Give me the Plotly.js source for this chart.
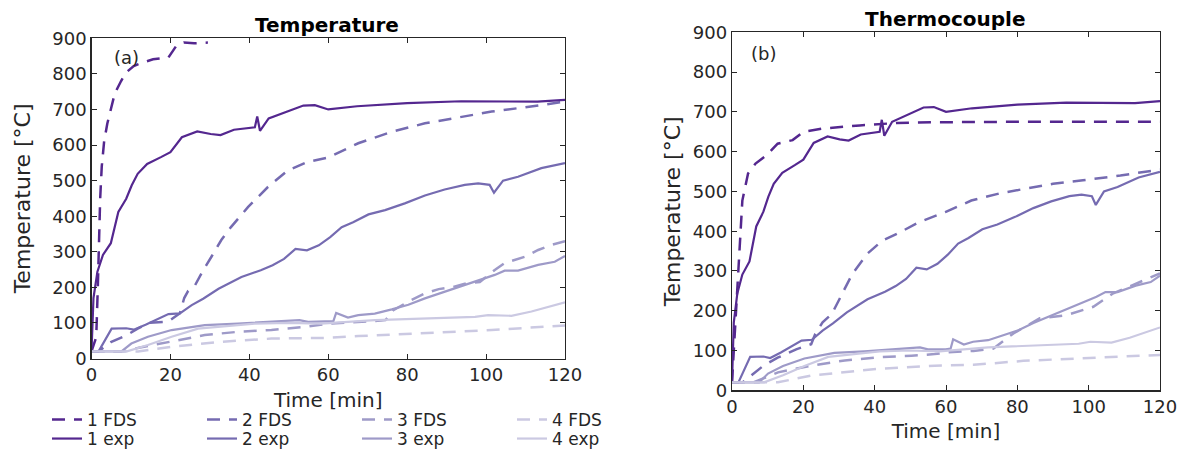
<!DOCTYPE html>
<html>
<head>
<meta charset="utf-8">
<script src="https://cdn.plot.ly/plotly-3.0.1.min.js"></script>
<style>html,body{margin:0;padding:0;background:#fff;}#chart{width:1181px;height:450px;}</style>
</head>
<body>
<div id="chart"></div>
<script>
// ---------- data (time in min, temperature in °C) ----------
var seriesNames = ["1 FDS", "2 FDS", "3 FDS", "4 FDS", "1 exp", "2 exp", "3 exp", "4 exp"];
var colors = ["#54278f", "#756bb1", "#9e9ac8", "#cbc9e2"];

// experimental curves (same in both panels)
var exp1_t = [0,0.5,1.5,2.9,4.9,5.9,6.8,8.8,10.2,11.7,14.1,17.6,20,22.9,26.8,30.2,32.7,36.1,39.5,41.4,42,42.7,44.9,49.3,53.7,56.6,60,67.3,80,93.7,107.3,113,120];
var exp1_T = [20,170,244,291,324,375,412,449,487,519,547,566,580,622,638,631,628,643,647,650,680,640,675,692,711,712,700,709,718,723,723,722,727];
var exp2_t = [0,1.8,5.1,8.8,10.7,13.7,19.5,22.4,25.4,28.3,32.2,38,42.9,45.9,48.8,51.7,54.6,57.6,60.5,63.4,66.3,70.2,74.4,79.4,84.5,89.5,94.6,98,100.9,102,104.3,108.1,114,120];
var exp2_T = [20,20,84,85,81,95,125,127,150,168,196,229,248,262,280,308,304,318,341,369,383,405,417,436,458,475,488,492,488,466,500,511,535,549];
var exp3_t = [0,7.6,10.1,14.3,20.3,28.7,37.1,45.6,52.7,54.9,59.9,61.3,62,65,67.6,71.8,76.1,80.3,84.5,89.5,94.6,99.7,102.2,104.7,108.1,113.2,117.4,120];
var exp3_T = [20,20,42,61,80,94,98,103,108,103,103,105,128,115,122,126,138,151,169,188,207,225,235,247,247,263,272,288];
var exp4_t = [0,9,14.3,20.3,27,34.6,41.4,49.8,58.2,71.8,84.5,97.2,100.5,106.4,111.5,116,120];
var exp4_T = [20,20,38,61,84,91,98,100,98,108,113,117,122,120,132,145,158];

// FDS curves, panel (a) Temperature
var fdsA1_t = [0,1.2,1.6,1.9,2.2,2.6,3.2,4,4.9,5.9,7.5,8.8,10.7,13,15.6,19.5,21.5,23.4,26,29.5];
var fdsA1_T = [20,60,200,330,450,540,610,660,702,745,780,804,822,832,841,846,879,888,886,888];
var fdsA2_t = [0,1.8,4.9,8.8,11.7,14.6,19.5,22.4,23.5,24.5,26.2,28.3,30.4,32.9,35.4,39.7,44.7,49.8,54.9,60,67.6,76,84.5,92.9,101.4,109.8,120];
var fdsA2_T = [20,20,46,65,84,100,104,127,170,190,205,248,286,333,370,426,482,529,553,565,605,637,661,678,694,706,722];
var fdsA3_t = [0,8,12,20.3,28.7,37.1,45.6,54,60,70,74.5,75.2,76.5,81,84.5,88,91.3,94.6,98.4,102.2,104.7,109.8,113.2,116.5,120];
var fdsA3_T = [20,20,30,47,66,75,80,89,98,104,108,117,136,164,183,195,200,210,215,249,268,286,305,319,330];
var fdsA4_t = [0,11.8,20.3,32.9,45.6,60,67.6,84.5,101.4,120];
var fdsA4_T = [20,20,33,47,56,58,63,71,80,93];

// FDS curves, panel (b) Thermocouple
var fdsB1_t = [0,0.8,1.4,2.2,2.9,4.5,6.6,9.7,12.8,17,20.1,25.4,35.8,46.2,58,80,100,120];
var fdsB1_T = [20,141,250,376,477,545,570,591,620,629,650,658,666,672,674,675,675,675];
var fdsB2_t = [0,3,8.7,12.8,18,22.2,23.3,25.4,28,30.6,33.7,37.9,42.1,46.2,52.5,59.8,67.1,75.5,82.8,90,98.4,108.9,120];
var fdsB2_T = [20,20,61,82,103,116,141,171,192,238,292,343,376,393,423,448,477,496,507,519,528,540,555];
var fdsB3_t = [0,6,12.9,22.2,31.6,40.9,50.3,56.8,60,67.7,73.3,78.9,86.3,93.8,101.3,106.9,112.5,120];
var fdsB3_T = [20,20,45,62,75,83,87,91,95,99,105,143,181,189,210,244,265,294];
var fdsB4_t = [0,12.9,22.2,31.6,40.9,56.8,67.7,81.7,95.7,109.7,120];
var fdsB4_T = [20,20,37,45,54,62,64,74,80,85,89];

var xTicks = [0,20,40,60,80,100,120];
var yTicks = [0,100,200,300,400,500,600,700,800,900];

// ---------- traces ----------
var FONT = "DejaVu Sans, Liberation Sans, Arial, sans-serif";
var DASH = "13px,9px";
var expT = [[exp1_t,exp1_T],[exp2_t,exp2_T],[exp3_t,exp3_T],[exp4_t,exp4_T]];
var fdsA = [[fdsA1_t,fdsA1_T],[fdsA2_t,fdsA2_T],[fdsA3_t,fdsA3_T],[fdsA4_t,fdsA4_T]];
var fdsB = [[fdsB1_t,fdsB1_T],[fdsB2_t,fdsB2_T],[fdsB3_t,fdsB3_T],[fdsB4_t,fdsB4_T]];

var traces = [];
for (var i = 0; i < 4; i++) {
  traces.push({x: fdsA[i][0], y: fdsA[i][1], type: 'scatter', mode: 'lines', name: seriesNames[i],
    line: {color: colors[i], width: 2.5, dash: DASH}, xaxis: 'x', yaxis: 'y', legend: 'legend'});
}
for (var i = 0; i < 4; i++) {
  traces.push({x: expT[i][0], y: expT[i][1], type: 'scatter', mode: 'lines', name: seriesNames[4+i],
    line: {color: colors[i], width: 2.2}, xaxis: 'x', yaxis: 'y', legend: 'legend2'});
}
for (var i = 0; i < 4; i++) {
  traces.push({x: fdsB[i][0], y: fdsB[i][1], type: 'scatter', mode: 'lines', name: seriesNames[i],
    line: {color: colors[i], width: 2.5, dash: DASH}, xaxis: 'x2', yaxis: 'y2', showlegend: false});
}
for (var i = 0; i < 4; i++) {
  traces.push({x: expT[i][0], y: expT[i][1], type: 'scatter', mode: 'lines', name: seriesNames[4+i],
    line: {color: colors[i], width: 2.2}, xaxis: 'x2', yaxis: 'y2', showlegend: false});
}

// ---------- layout ----------
var W = 1181, H = 450;
function px2x(p){ return p / W; }
function px2y(p){ return (H - p) / H; }
var tickFont = {family: FONT, size: 18, color: '#262626'};
function xAxis(dom, anchor) {
  return {domain: dom, anchor: anchor, range: [0,120], tickvals: xTicks, ticks: 'inside', ticklen: 5,
    tickcolor: '#262626', showline: true, linecolor: '#262626', linewidth: 1.2, mirror: 'ticks',
    showgrid: false, zeroline: false, tickfont: tickFont, automargin: false,
    title: {text: 'Time [min]', font: {family: FONT, size: 20, color: '#262626'}, standoff: 8}};
}
function yAxis(dom, anchor, standoff) {
  return {domain: dom, anchor: anchor, range: [0,900], tickvals: yTicks, ticks: 'inside', ticklen: 5,
    tickcolor: '#262626', showline: true, linecolor: '#262626', linewidth: 1.2, mirror: 'ticks',
    showgrid: false, zeroline: false, tickfont: tickFont, automargin: false,
    title: {text: 'Temperature [°C]', font: {family: FONT, size: 22, color: '#262626'}, standoff: standoff}};
}
var legFont = {family: FONT, size: 17, color: '#262626'};

var layout = {
  width: W, height: H,
  margin: {l: 0, r: 0, t: 0, b: 0, autoexpand: false},
  paper_bgcolor: '#ffffff', plot_bgcolor: '#ffffff',
  font: {family: FONT, color: '#262626'},
  showlegend: true,
  xaxis: xAxis([px2x(91.5), px2x(565)], 'y'),
  yaxis: yAxis([px2y(358.5), px2y(38.3)], 'x', 15),
  xaxis2: xAxis([px2x(732), px2x(1160)], 'y2'),
  yaxis2: yAxis([px2y(390.3), px2y(32.3)], 'x2', 6),
  legend: {orientation: 'h', x: px2x(47), y: px2y(402), xanchor: 'left', yanchor: 'top',
    entrywidth: 110, entrywidthmode: 'pixels', bgcolor: 'rgba(0,0,0,0)', borderwidth: 0, font: legFont},
  legend2: {orientation: 'h', x: px2x(47), y: px2y(421), xanchor: 'left', yanchor: 'top',
    entrywidth: 110, entrywidthmode: 'pixels', bgcolor: 'rgba(0,0,0,0)', borderwidth: 0, font: legFont},
  annotations: [
    {text: '<b>Temperature</b>', xref: 'paper', yref: 'paper', x: px2x(327), y: px2y(25),
      xanchor: 'center', yanchor: 'middle', showarrow: false, font: {family: FONT, size: 20, color: '#000'}},
    {text: '<b>Thermocouple</b>', xref: 'paper', yref: 'paper', x: px2x(945), y: px2y(19),
      xanchor: 'center', yanchor: 'middle', showarrow: false, font: {family: FONT, size: 20, color: '#000'}},
    {text: '(a)', xref: 'x', yref: 'y', x: 8.8, y: 846, xanchor: 'center', yanchor: 'middle',
      showarrow: false, font: {family: FONT, size: 18, color: '#262626'}},
    {text: '(b)', xref: 'x2', yref: 'y2', x: 8.7, y: 847, xanchor: 'center', yanchor: 'middle',
      showarrow: false, font: {family: FONT, size: 18, color: '#262626'}}
  ]
};

Plotly.newPlot('chart', traces, layout, {staticPlot: true, displayModeBar: false});
</script>
</body>
</html>
